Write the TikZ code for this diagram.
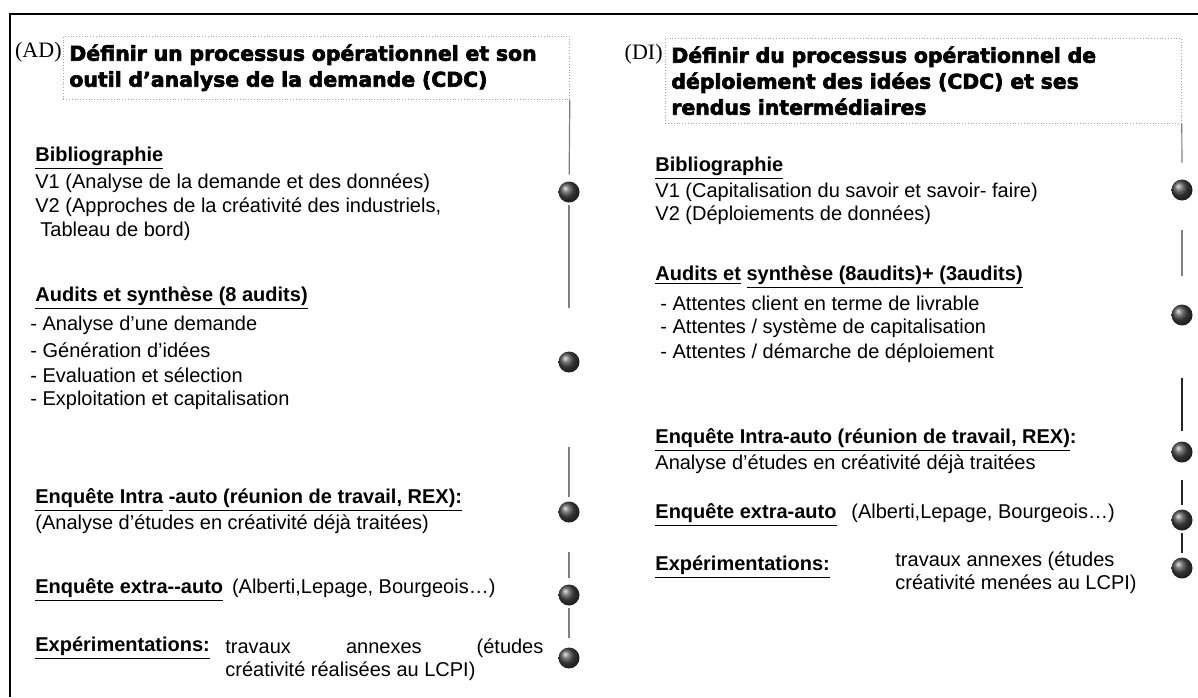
\documentclass[tikz,border=0pt]{standalone}
\usepackage{fontspec}
\setmainfont{Liberation Sans}
\newfontfamily\heavyfont{DejaVu Sans Bold}[FakeBold=3]
\newfontfamily\serifont{Liberation Serif}
\usepackage{tikz}
\usetikzlibrary{positioning}

\begin{document}
\begin{tikzpicture}[x=0.5pt, y=-0.5pt,
  txt/.style={font=\fontsize{10}{11.5}\selectfont, anchor=west, inner sep=0pt},
  hd/.style={font=\bfseries\fontsize{10}{11.5}\selectfont, anchor=west, inner sep=0pt},
  tag/.style={font=\serifont\fontsize{11}{13}\selectfont, anchor=east, inner sep=0pt},
  titlebox/.style={draw=gray!70, densely dotted, anchor=north west, align=left,
    inner xsep=3pt, inner ysep=4pt, font=\heavyfont\fontsize{10.2}{13}\selectfont},
  sphere/.style={circle, minimum size=10.5pt, inner sep=0pt, shading=ball, ball color=gray!55!black},
  link/.style={gray, line width=0.6pt},
  linkdark/.style={black!85, line width=0.7pt},
]

\useasboundingbox (0,0) rectangle (1198,697);

% Frame (top and left edges)
\draw[line width=1pt] (10,697) -- (10,14) -- (1198,14);

% ---------------- Left column (AD)
\node[titlebox, text width=247pt] (adTitle) at (63,36)
  {\makebox[247pt][s]{Définir un processus opérationnel et son}\\outil d’analyse de la demande (CDC)};
\node[tag] (adTag) at (62,52) {(AD)};

\node[hd] (adBib) at (35,158) {\underline{Bibliographie}};
\node[txt] (adV1) at (35,183) {V1 (Analyse de la demande et des données)};
\node[txt] (adV2) at (35,207) {V2 (Approches de la créativité des industriels,};
\node[txt] (adV3) at (40,231) {Tableau de bord)};

\node[hd] (adAud) at (35,298) {\underline{Audits et synthèse (8 audits)}};
\node[txt] (adA1) at (30,325) {- Analyse d’une demande};
\node[txt] (adA2) at (30,350) {- Génération d’idées};
\node[txt] (adA3) at (30,375) {- Evaluation et sélection};
\node[txt] (adA4) at (30,400) {- Exploitation et capitalisation};

\node[hd] (adIntra) at (35,500) {\underline{Enquête Intra} \underline{-auto (réunion de travail, REX):}};
\node[txt] (adIntraT) at (35,524) {(Analyse d’études en créativité déjà traitées)};

\node[hd] (adExtra) at (35,590) {\underline{Enquête extra-{}-auto}};
\node[txt, anchor=base west] (adExtraT) at ([xshift=4pt]adExtra.base east) {(Alberti,Lepage, Bourgeois…)};

\node[hd] (adExp) at (35,648) {\underline{Expérimentations:}};
\node[txt, anchor=north west, align=left] (adExpT) at (225,638)
  {\makebox[159pt][s]{travaux annexes (études}\\créativité réalisées au LCPI)};

% spheres
\node[sphere] (adS1) at (569,192) {};
\node[sphere] (adS2) at (569,362) {};
\node[sphere] (adS3) at (569,512) {};
\node[sphere] (adS4) at (569,595) {};
\node[sphere] (adS5) at (569,658) {};

% broken vertical guide
\draw[link, shorten >=3.25pt] (adTitle.south east) -- (adS1);
\draw[link, shorten <=1.25pt, shorten >=21.75pt] (adS1) -- (adS2);
\draw[link, shorten <=37.25pt, shorten >=2.25pt] (adS2) -- (adS3);
\draw[link, shorten <=14.75pt, shorten >=3.25pt] (adS3) -- (adS4);
\draw[link, shorten <=1.25pt, shorten >=4.75pt] (adS4) -- (adS5);

% ---------------- Right column (DI)
\node[titlebox, text width=252pt] (diTitle) at (665,38)
  {\makebox[252pt][s]{Définir du processus opérationnel de}\\
   \makebox[252pt][s]{déploiement des idées (CDC) et ses}\\rendus intermédiaires};
\node[tag] (diTag) at (663,54) {(DI)};

\node[hd] (diBib) at (655,168) {\underline{Bibliographie}};
\node[txt] (diV1) at (655,192) {V1 (Capitalisation du savoir et savoir- faire)};
\node[txt] (diV2) at (655,215) {V2 (Déploiements de données)};

\node[hd] (diAud) at (655,277) {\underline{Audits et} \underline{synthèse (8audits)+ (3audits)}};
\node[txt] (diA1) at (660,303) {- Attentes client en terme de livrable};
\node[txt] (diA2) at (660,328) {- Attentes / système de capitalisation};
\node[txt] (diA3) at (660,353) {- Attentes / démarche de déploiement};

\node[hd] (diIntra) at (655,440) {\underline{Enquête Intra-auto (réunion de travail, REX)}:};
\node[txt] (diIntraT) at (655,464) {Analyse d’études en créativité déjà traitées};

\node[hd] (diExtra) at (655,515) {\underline{Enquête extra-auto}};
\node[txt, anchor=base west] (diExtraT) at ([xshift=7pt]diExtra.base east) {(Alberti,Lepage, Bourgeois…)};

\node[hd] (diExp) at (655,567) {\underline{Expérimentations:}};
\node[txt, anchor=north west, align=left] (diExpT) at (895,551)
  {travaux annexes (études\\créativité menées au LCPI)};

% spheres
\node[sphere] (diS1) at (1182,190) {};
\node[sphere] (diS2) at (1182,315) {};
\node[sphere] (diS3) at (1182,452) {};
\node[sphere] (diS4) at (1182,520) {};
\node[sphere] (diS5) at (1182,568) {};

% broken vertical guide
\draw[link, shorten >=8.25pt] (diTitle.south east) -- (diS1);
\draw[link, shorten <=14.75pt, shorten >=14.25pt] (diS1) -- (diS2);
\draw[linkdark, shorten <=26.25pt, shorten >=5.25pt] (diS2) -- (diS3);
\draw[linkdark, shorten <=8.75pt, shorten >=2.25pt] (diS3) -- (diS4);
\draw[linkdark, shorten <=1.25pt, shorten >=2.25pt] (diS4) -- (diS5);

\end{tikzpicture}
\end{document}
